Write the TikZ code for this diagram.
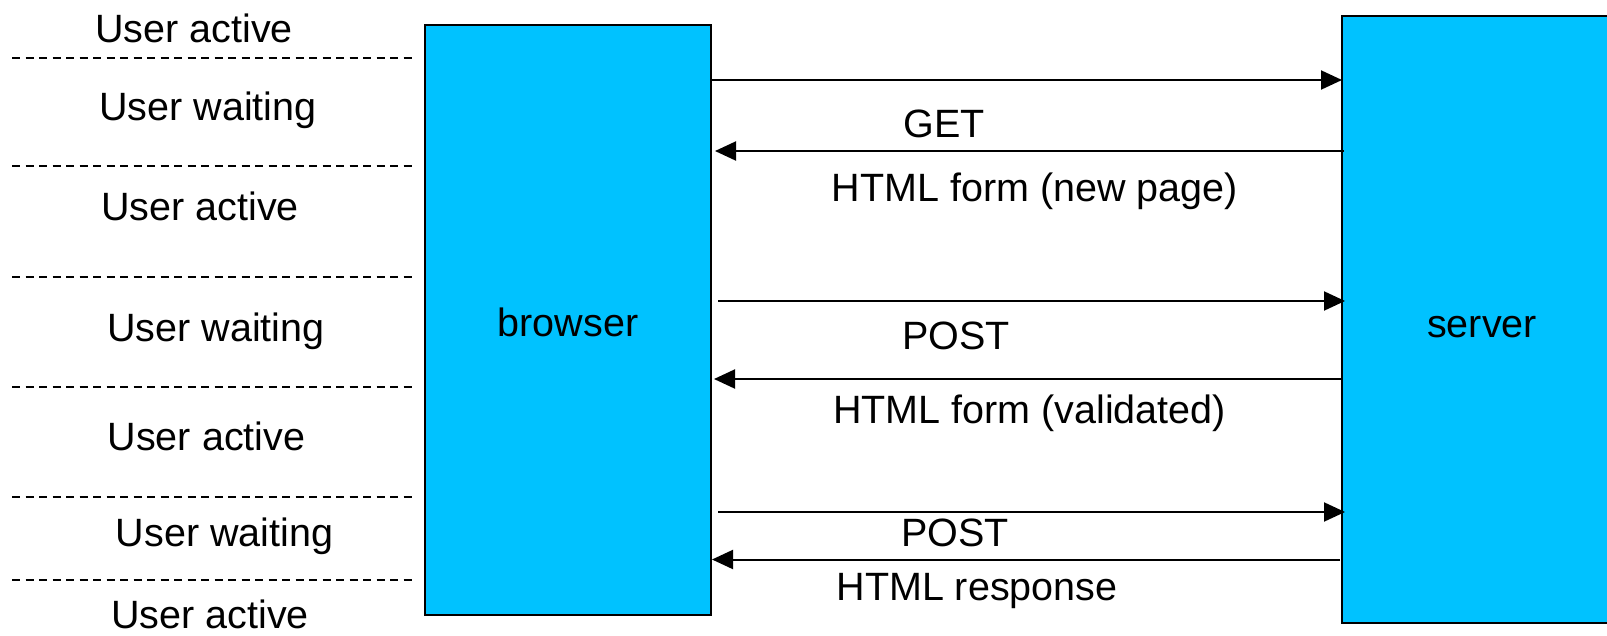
\documentclass[tikz,border=0pt]{standalone}
\usepackage{fontspec}
\setmainfont{Liberation Sans}
\usetikzlibrary{arrows.meta}
\definecolor{boxfill}{RGB}{0,194,255}
\begin{document}
\begin{tikzpicture}[x=1pt,y=-1pt,
  every node/.style={font=\fontsize{39.5}{48}\selectfont, inner sep=0pt, outer sep=0pt},
  party/.style={draw=black, line width=2pt, fill=boxfill, rectangle},
  lbl/.style={anchor=base},
  sep/.style={draw=black, line width=1.4pt, dash pattern=on 8pt off 5.5pt},
  msg/.style={draw=black, line width=2pt, -{Triangle[length=21pt,width=19pt]}}]
\useasboundingbox (0,0) rectangle (1607,635);
% boxes
\node[party, minimum width=286pt, minimum height=590pt, text height=32pt, text depth=0pt] (browser) at (568,320) {browser};
\node[party, minimum width=280pt, minimum height=607pt, text height=36pt, text depth=0pt] (server) at (1482,319) {server};
% separators
\coordinate (s1a) at (12,58);  \coordinate (s1b) at (413,58);
\coordinate (s2a) at (12,166); \coordinate (s2b) at (413,166);
\coordinate (s3a) at (12,277); \coordinate (s3b) at (413,277);
\coordinate (s4a) at (12,387); \coordinate (s4b) at (413,387);
\coordinate (s5a) at (12,497); \coordinate (s5b) at (413,497);
\coordinate (s6a) at (12,580); \coordinate (s6b) at (413,580);
\foreach \i in {1,...,6} \draw[sep] (s\i a) -- (s\i b);
% user states
\node[lbl] (u1) at (194,42.7) {User active};
\node[lbl] (u2) at (208,120) {User waiting};
\node[lbl] (u3) at (200,220) {User active};
\node[lbl] (u4) at (216,341.7) {User waiting};
\node[lbl] (u5) at (206.5,450) {User active};
\node[lbl] (u6) at (224.5,546.7) {User waiting};
\node[lbl] (u7) at (210,628.5) {User active};
% messages
\draw[msg, shorten <=1pt] (browser.east |- 0,80) -- (server.west |- 0,80);
\draw[msg, shorten <=-2pt, shorten >=4pt] (server.west |- 0,151) -- (browser.east |- 0,151);
\draw[msg, shorten <=7pt, shorten >=-3pt] (browser.east |- 0,301) -- (server.west |- 0,301);
\draw[msg, shorten >=3pt] (server.west |- 0,379) -- (browser.east |- 0,379);
\draw[msg, shorten <=7pt, shorten >=-3pt] (browser.east |- 0,512) -- (server.west |- 0,512);
\draw[msg, shorten <=2pt, shorten >=1pt] (server.west |- 0,559.5) -- (browser.east |- 0,559.5);
% message labels
\node[lbl] (m1) at (944.5,137) {GET};
\node[lbl] (m2) at (1035,201) {HTML form (new page)};
\node[lbl] (m3) at (956,349) {POST};
\node[lbl] (m4) at (1029.5,423) {HTML form (validated)};
\node[lbl] (m5) at (955,546.7) {POST};
\node[lbl] (m6) at (977,600) {HTML response};
\end{tikzpicture}
\end{document}
